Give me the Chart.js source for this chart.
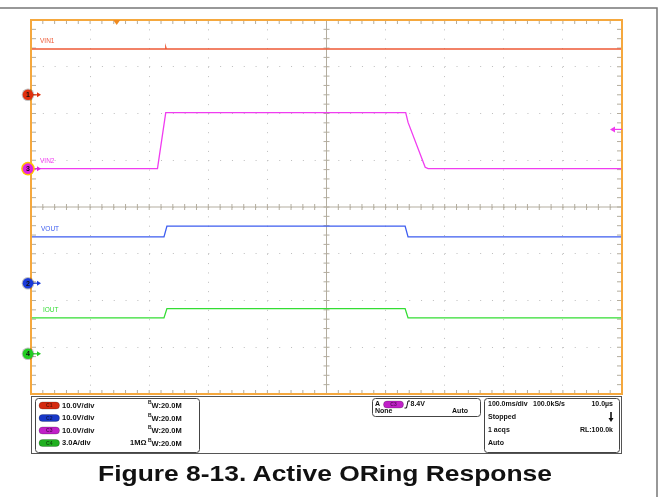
<!DOCTYPE html>
<html>
<head>
<meta charset="utf-8">
<script src="https://cdn.jsdelivr.net/npm/chart.js@4"></script>
<style>
  html, body { margin: 0; padding: 0; background: #fff; }
  #wrap { position: relative; width: 666px; height: 497px; overflow: hidden; }
  #scope { position: absolute; left: 0; top: 0; }
  #caption {
    position: absolute; left: 0; top: 461px; width: 650px;
    text-align: center; white-space: nowrap;
    font: bold 22px "Liberation Sans", Arial, sans-serif; color: #111;
    transform: scaleX(1.2); transform-origin: 325px 0;
  }
</style>
</head>
<body>
<div id="wrap">
  <canvas id="scope" width="666" height="497"></canvas>
  <div id="caption">Figure 8-13. Active ORing Response</div>
</div>
<script>
// Captured waveforms: time in ms (100 ms/div), values in V or A
const vin1Time = [0, 227, 228, 229, 1000];
const vin1Volts = [9.8, 9.8, 10.2, 9.8, 9.8];

const vin2Time = [0, 214, 228, 634, 638, 667, 672, 1000];
const vin2Volts = [0, 0, 12.0, 12.0, 9.9, 0.3, 0, 0];

const voutTime = [0, 225, 230, 633, 638, 1000];
const voutVolts = [9.9, 9.9, 12.2, 12.2, 9.9, 9.9];

const ioutTime = [0, 225, 230, 633, 638, 1000];
const ioutAmps = [2.3, 2.3, 2.9, 2.9, 2.3, 2.3];

// Channel setup: C1..C4
const chNames = ["C1", "C2", "C3", "C4"];
const chScale = [10, 10, 10, 3];          // units per division
const chUnit = ["V", "V", "V", "A"];
const chOffset = [2.40, -1.63, 0.82, -3.14]; // ground marker, divisions
const chColor = ["#ee5a36", "#3c5cf0", "#f03cf0", "#33dd33"];
const markerColor = ["#e0300e", "#1a3ad8", "#e020e0", "#22cc22"];
const pillColor = ["#d42a10", "#1838c8", "#c020c8", "#20b020"];

const triggerLevel = 8.4;   // V on C3
const triggerTime = 145;    // ms, trigger position marker

const series = (t, v, ch) => t.map((x, i) => ({ x: x, y: chOffset[ch] + v[i] / chScale[ch] }));

const traceLabels = [
  { text: "VIN1", ch: 0, level: vin1Volts[0], x: 40 },
  { text: "VIN2", ch: 2, level: vin2Volts[0], x: 40 },
  { text: "VOUT", ch: 1, level: voutVolts[0], x: 41 },
  { text: "IOUT", ch: 3, level: ioutAmps[0], x: 43 },
];

const FONT = '"Liberation Sans", Arial, sans-serif';
const PANEL_FONT = "bold 7.5px " + FONT;
const SMALL_FONT = "bold 7px " + FONT;

function pill(ctx, x, y, w, h, color, label) {
  const r = h / 2;
  ctx.save();
  ctx.beginPath();
  ctx.moveTo(x + r, y - r);
  ctx.lineTo(x + w - r, y - r);
  ctx.arc(x + w - r, y, r, -Math.PI / 2, Math.PI / 2);
  ctx.lineTo(x + r, y + r);
  ctx.arc(x + r, y, r, Math.PI / 2, Math.PI * 1.5);
  ctx.closePath();
  ctx.fillStyle = color;
  ctx.fill();
  ctx.strokeStyle = "rgba(0,0,0,0.35)";
  ctx.lineWidth = 0.6;
  ctx.stroke();
  ctx.fillStyle = "rgba(0,0,0,0.55)";
  ctx.font = "bold 5px " + FONT;
  ctx.textAlign = "center";
  ctx.textBaseline = "middle";
  ctx.fillText(label, x + w / 2, y + 0.5);
  ctx.restore();
}

function roundBox(ctx, x1, y1, x2, y2, r) {
  ctx.beginPath();
  ctx.moveTo(x1 + r, y1);
  ctx.arcTo(x2, y1, x2, y2, r);
  ctx.arcTo(x2, y2, x1, y2, r);
  ctx.arcTo(x1, y2, x1, y1, r);
  ctx.arcTo(x1, y1, x2, y1, r);
  ctx.closePath();
  ctx.stroke();
}

function text(ctx, s, x, y, align) {
  ctx.textAlign = align || "left";
  ctx.fillText(s, x, y);
}

const scopeFace = {
  id: "scopeFace",
  beforeDatasetsDraw(chart) {
    const { ctx, chartArea: a, scales: { x, y } } = chart;
    ctx.save();
    // centre graticule with minor ticks
    const cx = x.getPixelForValue(500), cy = y.getPixelForValue(0);
    ctx.strokeStyle = "#b3ad9f";
    ctx.lineWidth = 1;
    ctx.beginPath();
    ctx.moveTo(cx, a.top); ctx.lineTo(cx, a.bottom);
    ctx.moveTo(a.left, cy); ctx.lineTo(a.right, cy);
    for (let i = 0; i <= 50; i++) {
      const px = x.getPixelForValue(i * 20);
      ctx.moveTo(px, cy - 3); ctx.lineTo(px, cy + 3);
      ctx.moveTo(px, a.top); ctx.lineTo(px, a.top + 4);
      ctx.moveTo(px, a.bottom); ctx.lineTo(px, a.bottom - 4);
    }
    for (let j = 0; j <= 40; j++) {
      const py = y.getPixelForValue(-4 + j * 0.2);
      ctx.moveTo(cx - 3, py); ctx.lineTo(cx + 3, py);
      ctx.moveTo(a.left, py); ctx.lineTo(a.left + 5, py);
      ctx.moveTo(a.right, py); ctx.lineTo(a.right - 5, py);
    }
    ctx.stroke();
    ctx.restore();
  },
  afterDatasetsDraw(chart) {
    const { ctx, chartArea: a, scales: { x, y } } = chart;
    ctx.save();

    // trace names
    ctx.font = "6.5px " + FONT;
    ctx.textBaseline = "middle";
    traceLabels.forEach(l => {
      ctx.fillStyle = chColor[l.ch];
      text(ctx, l.text, l.x, y.getPixelForValue(chOffset[l.ch] + l.level / chScale[l.ch]) - 7.8);
    });

    // orange screen frame
    ctx.strokeStyle = "#f5a83e";
    ctx.lineWidth = 2;
    ctx.strokeRect(a.left, a.top, a.right - a.left, a.bottom - a.top);

    // trigger position marker
    const tx = x.getPixelForValue(triggerTime);
    ctx.fillStyle = "#f08a1e";
    ctx.beginPath();
    ctx.moveTo(tx - 3.5, a.top); ctx.lineTo(tx + 3.5, a.top); ctx.lineTo(tx, a.top + 5);
    ctx.closePath(); ctx.fill();

    // trigger level arrow (C3)
    const ty = y.getPixelForValue(chOffset[2] + triggerLevel / chScale[2]);
    ctx.strokeStyle = chColor[2];
    ctx.fillStyle = chColor[2];
    ctx.lineWidth = 1.2;
    ctx.beginPath(); ctx.moveTo(a.right, ty); ctx.lineTo(a.right - 8, ty); ctx.stroke();
    ctx.beginPath(); ctx.moveTo(a.right - 12, ty); ctx.lineTo(a.right - 7, ty - 3); ctx.lineTo(a.right - 7, ty + 3);
    ctx.closePath(); ctx.fill();

    // channel ground markers
    chOffset.forEach((off, i) => {
      const my = y.getPixelForValue(off);
      const mx = 28;
      ctx.strokeStyle = markerColor[i];
      ctx.fillStyle = markerColor[i];
      ctx.lineWidth = 1.2;
      ctx.beginPath(); ctx.moveTo(mx + 4, my); ctx.lineTo(mx + 10, my); ctx.stroke();
      ctx.beginPath(); ctx.moveTo(mx + 13, my); ctx.lineTo(mx + 9, my - 2.5); ctx.lineTo(mx + 9, my + 2.5);
      ctx.closePath(); ctx.fill();
      if (i === 2) {
        ctx.fillStyle = "#ffc400";
        ctx.beginPath(); ctx.arc(mx, my, 6.8, 0, Math.PI * 2); ctx.fill();
      } else {
        ctx.fillStyle = "rgba(0,0,0,0.25)";
        ctx.beginPath(); ctx.arc(mx, my, 6.3, 0, Math.PI * 2); ctx.fill();
      }
      ctx.fillStyle = markerColor[i];
      ctx.beginPath(); ctx.arc(mx, my, 5.3, 0, Math.PI * 2); ctx.fill();
      ctx.fillStyle = "#111";
      ctx.font = "bold 7px " + FONT;
      ctx.textAlign = "center";
      ctx.fillText(String(i + 1), mx, my + 0.5);
    });

    // outer page frame
    ctx.strokeStyle = "#777";
    ctx.lineWidth = 1.5;
    ctx.beginPath();
    ctx.moveTo(0, 8); ctx.lineTo(657, 8); ctx.lineTo(657, 497);
    ctx.stroke();

    // status panel
    ctx.strokeStyle = "#555";
    ctx.lineWidth = 1;
    ctx.strokeRect(a.left + 0.5, a.bottom + 2.5, a.right - a.left - 1, 57);
    ctx.strokeStyle = "#444";
    roundBox(ctx, 35.5, 398.5, 199.5, 452.5, 3);
    roundBox(ctx, 372.5, 398.5, 480.5, 416.5, 3);
    roundBox(ctx, 484.5, 398.5, 619.5, 452.5, 3);

    ctx.textBaseline = "middle";
    ctx.fillStyle = "#111";
    chNames.forEach((n, i) => {
      const ry = 405.5 + i * 12.5;
      pill(ctx, 39, ry, 20.5, 7, pillColor[i], n);
      ctx.font = PANEL_FONT;
      text(ctx, chScale[i].toFixed(1) + chUnit[i] + "/div", 62, ry);
      if (i === 3) text(ctx, "1M\u03A9", 130, ry);
      ctx.font = "bold 5px " + FONT;
      text(ctx, "B", 148, ry - 2.5);
      ctx.font = PANEL_FONT;
      text(ctx, "W:20.0M", 151.5, ry + 0.5);
    });

    // trigger box
    ctx.font = SMALL_FONT;
    text(ctx, "A", 375, 404.5);
    pill(ctx, 383.5, 404.5, 20, 7, pillColor[2], chNames[2]);
    ctx.strokeStyle = "#111";
    ctx.lineWidth = 1;
    ctx.beginPath();
    ctx.moveTo(404.5, 408); ctx.lineTo(406.5, 408); ctx.lineTo(408, 401); ctx.lineTo(410, 401);
    ctx.stroke();
    text(ctx, triggerLevel.toFixed(1) + "V", 410.5, 404.5);
    text(ctx, "None", 375, 411.5);
    text(ctx, "Auto", 468, 411.5, "right");

    // timebase box
    text(ctx, "100.0ms/div", 488, 404.5);
    text(ctx, "100.0kS/s", 533, 404.5);
    text(ctx, "10.0\u00B5s", 613, 404.5, "right");
    text(ctx, "Stopped", 488, 417);
    text(ctx, "1 acqs", 488, 430);
    text(ctx, "RL:100.0k", 613, 430, "right");
    text(ctx, "Auto", 488, 443);
    ctx.lineWidth = 1.6;
    ctx.beginPath(); ctx.moveTo(611, 412); ctx.lineTo(611, 419); ctx.stroke();
    ctx.beginPath(); ctx.moveTo(608.5, 418); ctx.lineTo(613.5, 418); ctx.lineTo(611, 422); ctx.closePath(); ctx.fill();

    ctx.restore();
  }
};

const trace = (data, color) => ({
  data: data, borderColor: color, borderWidth: 1.3,
  pointRadius: 0, tension: 0, fill: false
});

new Chart(document.getElementById("scope"), {
  type: "line",
  data: {
    datasets: [
      trace(series(vin1Time, vin1Volts, 0), chColor[0]),
      trace(series(vin2Time, vin2Volts, 2), chColor[2]),
      trace(series(voutTime, voutVolts, 1), chColor[1]),
      trace(series(ioutTime, ioutAmps, 3), chColor[3]),
    ],
  },
  options: {
    responsive: false,
    animation: false,
    devicePixelRatio: 1,
    layout: { padding: { left: 31, right: 44, top: 20, bottom: 103 } },
    plugins: { legend: { display: false }, tooltip: { enabled: false } },
    scales: {
      x: {
        type: "linear", min: 0, max: 1000,
        ticks: { display: false, stepSize: 100 },
        grid: { color: "#bdbdbd", lineWidth: 1, drawTicks: false },
        border: { display: false, dash: [1, 8.35] },
      },
      y: {
        type: "linear", min: -4, max: 4,
        ticks: { display: false, stepSize: 1 },
        grid: { color: "#bdbdbd", lineWidth: 1, drawTicks: false },
        border: { display: false, dash: [1, 10.82] },
      },
    },
  },
  plugins: [scopeFace],
});
</script>
</body>
</html>
